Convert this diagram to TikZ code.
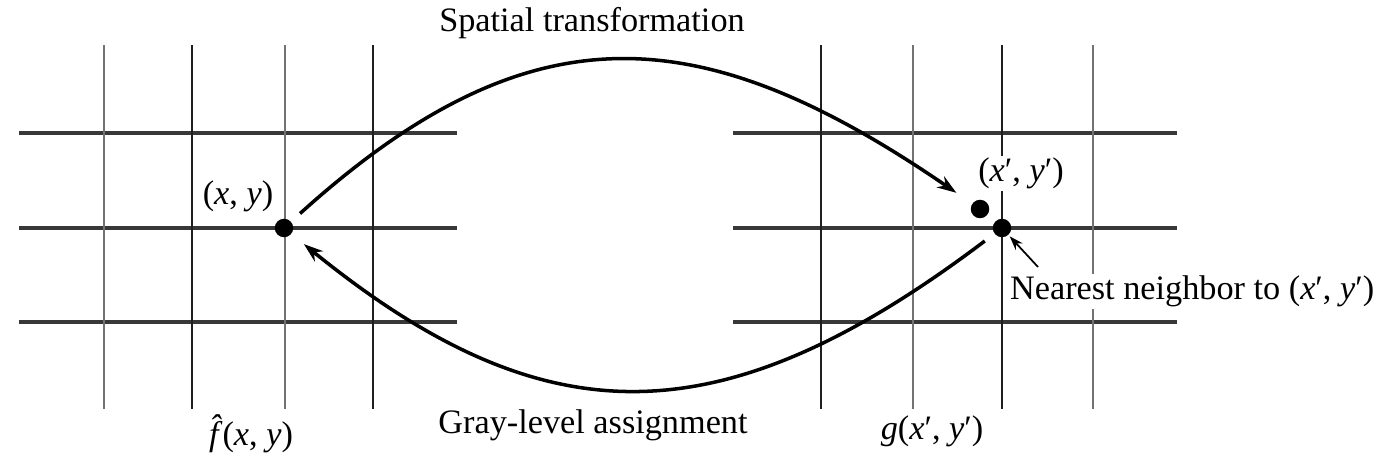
\documentclass[tikz,border=0pt]{standalone}
\usepackage{fontspec}
\setmainfont{Liberation Serif}
\usetikzlibrary{arrows.meta}

\begin{document}
\begin{tikzpicture}[x=0.02cm,y=-0.02cm,font=\fontsize{19.5}{23}\selectfont,hline/.style={line width=1.8pt,black!78},vline/.style={line width=1.1pt,black!88},vlight/.style={line width=1.1pt,black!55},dot/.style={circle,fill=black,inner sep=0pt,minimum size=0.37cm},curve/.style={line width=2pt,-{Stealth[length=11pt,width=7.5pt]}},pointer/.style={line width=1pt,-{Stealth[length=8pt,width=5.5pt]}},txt/.style={fill=white,inner sep=1pt,anchor=base}]
\useasboundingbox (0,0) rectangle (1383,462);
% left grid
\draw[hline] (19,133) -- (457,133) (19,228) -- (457,228) (19,322) -- (457,322);
\draw[vlight] (104,45) -- (104,409) (285,45) -- (285,409);
\draw[vline] (192,45) -- (192,409) (373,45) -- (373,409);
% right grid
\draw[hline] (733,133) -- (1177,133) (733,228) -- (1177,228) (733,322) -- (1177,322);
\draw[vline] (821,45) -- (821,409) (1002,45) -- (1002,409);
\draw[vlight] (913,45) -- (913,409) (1093,45) -- (1093,409);
% points
\node[dot] (xy) at (284,228) {};
\node[dot] (xyp) at (980,209) {};
\node[dot] (nn) at (1002,228) {};
\node[txt] (xylab) at (238,205) {(\textit{x}, \textit{y})};
\node[txt] (xyplab) at (1021,182) {(\textit{x}′, \textit{y}′)};
\node[txt,anchor=base west] (nnlab) at (1008,300) {Nearest neighbor to (\textit{x}′, \textit{y}′)};
\coordinate (nntail) at (1038,267);
% captions
\node[txt] (spat) at (592,32) {Spatial transformation};
\node[txt] (gray) at (593,434) {Gray-level assignment};
\node[txt] (fhat) at (251,445) {\textit{f}\llap{\raisebox{0.2em}{\textit{ˆ}}\kern0.02em}(\textit{x}, \textit{y})};
\node[txt] (gimg) at (932,439) {\textit{g}(\textit{x}′, \textit{y}′)};
% arrows
\draw[curve,shorten <=0.24cm,shorten >=0.38cm] (xy) .. controls (530,6) and (700,17) .. (xyp);
\draw[curve,shorten <=0.24cm,shorten >=0.32cm] (nn) .. controls (720,441) and (544,439) .. (xy);
\draw[pointer,shorten >=1pt] (nntail) -- (nn);
\end{tikzpicture}
\end{document}
